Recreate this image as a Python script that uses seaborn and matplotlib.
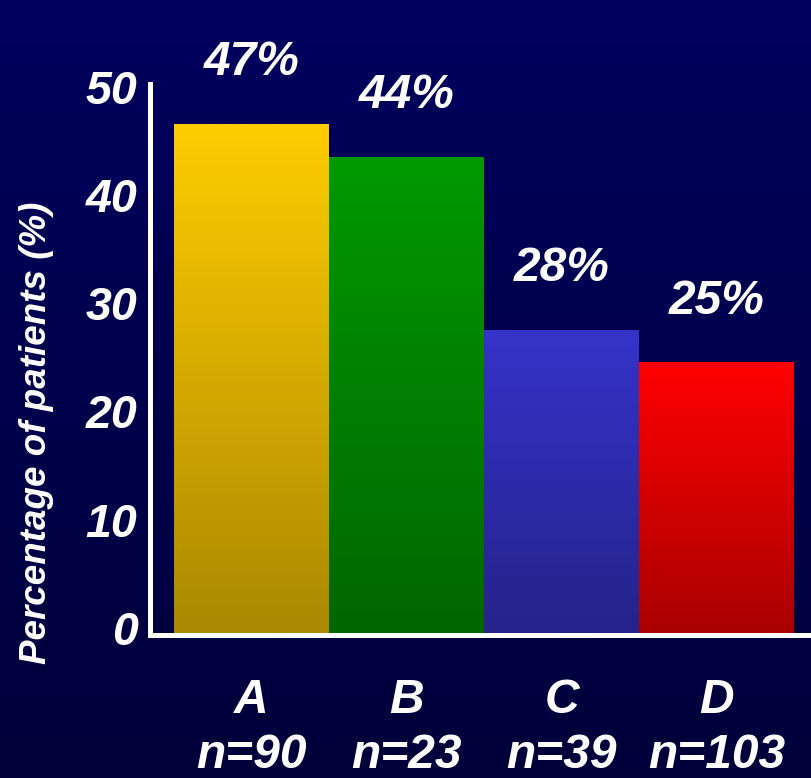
import numpy as np
import pandas as pd
import matplotlib
matplotlib.use("Agg")
import matplotlib.pyplot as plt
from matplotlib.colors import to_rgb
from matplotlib.transforms import ScaledTranslation
import seaborn as sns

# Chart data
categories = ["A", "B", "C", "D"]
sample_sizes = [90, 23, 39, 103]
percentages = [47, 44, 28, 25]
y_ticks = [0, 10, 20, 30, 40, 50]

# Bar colours (top -> bottom of each vertical gradient)
top_colors = ["#FFCC00", "#009900", "#3533CA", "#FF0000"]
bottom_colors = ["#AA8800", "#006600", "#25238A", "#AA0000"]

sns.set_theme(style="white")
plt.rcParams["font.family"] = ["Liberation Sans", "DejaVu Sans"]
plt.rcParams["font.weight"] = "bold"
plt.rcParams["font.style"] = "italic"

df = pd.DataFrame({
    "label": [f"{c}\nn={n}" for c, n in zip(categories, sample_sizes)],
    "pct": percentages,
})

fig = plt.figure(figsize=(8.11, 7.78), dpi=100)

# Navy background gradient behind everything
bg = fig.add_axes([0, 0, 1, 1], zorder=-10)
bg_top = np.array(to_rgb("#00005F"))
bg_bot = np.array(to_rgb("#00003A"))
t = np.linspace(0, 1, 256)[:, None, None]
bg.imshow(bg_top * (1 - t) + bg_bot * t, aspect="auto", extent=[0, 1, 0, 1])
bg.set_axis_off()

ax = fig.add_axes([150 / 811, 143 / 778, 661 / 811, 551 / 778])
ax.set_facecolor("none")

sns.barplot(data=df, x="label", y="pct", hue="label", palette=top_colors,
            width=1.0, legend=False, ax=ax, saturation=1)

# Replace flat fills with vertical gradients clipped to each bar
for patch, ctop, cbot in zip(ax.patches, top_colors, bottom_colors):
    x0, y0 = patch.get_x(), patch.get_y()
    w, h = patch.get_width(), patch.get_height()
    s = np.linspace(0, 1, 256)[:, None, None]
    grad = np.array(to_rgb(cbot)) * (1 - s) + np.array(to_rgb(ctop)) * s
    im = ax.imshow(grad, extent=[x0, x0 + w, y0, y0 + h], origin="lower",
                   aspect="auto", zorder=patch.get_zorder())
    im.set_clip_path(patch)
    patch.set_facecolor("none")
    patch.set_edgecolor("none")

# Value labels above bars
for i, v in enumerate(percentages):
    ax.annotate(f"{v}%", (i, v), xytext=(0, 44), textcoords="offset points",
                ha="center", va="center", color="white", fontsize=34.5,
                fontweight="bold", fontstyle="italic", annotation_clip=False)

ax.set_xlim(-0.655, 3.61)
ax.set_ylim(-0.2, 50.7)
ax.set_aspect("auto")
ax.set_yticks(y_ticks)
ax.set_yticklabels([str(v) for v in y_ticks])

ax.tick_params(axis="y", length=0, pad=9, labelsize=33.5, labelcolor="white")
ax.tick_params(axis="x", length=0, pad=31, labelsize=34.5, labelcolor="white")
for lab in ax.get_xticklabels():
    lab.set_linespacing(1.27)
# y tick labels sit a little above their gridline positions
for lab in ax.get_yticklabels():
    lab.set_transform(lab.get_transform() + ScaledTranslation(0, 0.05, fig.dpi_scale_trans))

ax.set_xlabel("")
ax.set_ylabel("Percentage of patients (%)", color="white", fontsize=26.5,
              fontweight="bold", fontstyle="italic", va="center")
ax.yaxis.set_label_coords(-0.172, 0.367)

for side in ["top", "right"]:
    ax.spines[side].set_visible(False)
for side in ["left", "bottom"]:
    ax.spines[side].set_color("white")
    ax.spines[side].set_linewidth(3.6)
    ax.spines[side].set_capstyle("projecting")

fig.savefig("out.png", dpi=100)
